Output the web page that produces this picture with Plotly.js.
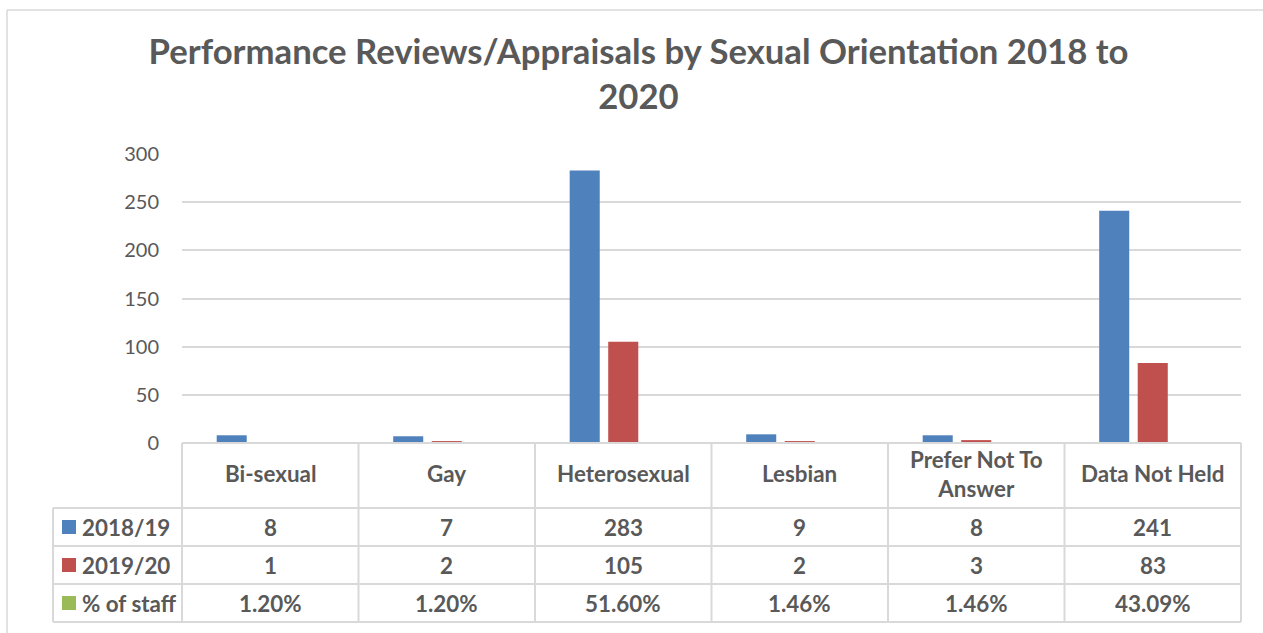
<!DOCTYPE html>
<html>
<head>
<meta charset="utf-8">
<script src="https://cdn.plot.ly/plotly-3.0.1.min.js"></script>
<style>html,body{margin:0;padding:0;background:#fff;}#chart{width:1263px;height:633px;}</style>
</head>
<body>
<div id="chart"></div>
<script>
// ---- data ----
var categories = ["Bi-sexual", "Gay", "Heterosexual", "Lesbian", "Prefer Not To Answer", "Data Not Held"];
var categoryLabels = ["Bi-sexual", "Gay", "Heterosexual", "Lesbian", "Prefer Not To<br>Answer", "Data Not Held"];
var seriesNames = ["2018/19", "2019/20", "% of staff"];
var reviews2018 = [8, 7, 283, 9, 8, 241];
var reviews2019 = [1, 2, 105, 2, 3, 83];
var pctStaff = [0.012, 0.012, 0.516, 0.0146, 0.0146, 0.4309];
var yTicks = [0, 50, 100, 150, 200, 250, 300];

// ---- styling ----
var colors = ["#4F81BD", "#C0504D", "#9BBB59"];
var textColor = "#595959";
var lineColor = "#D9D9D9";
var W = 1263, H = 633;
var plotL = 182, plotR = 1241, plotT = 154, plotB = 443;
var FONT = "Lato, 'Open Sans', sans-serif";
var TABLE_SIZE = 22.4;

function px2x(p) { return (p - plotL) / (plotR - plotL); }
function px2y(p) { return (plotB - p) / (plotB - plotT); }

var traces = [reviews2018, reviews2019, pctStaff].map(function (vals, i) {
  return {
    type: "bar",
    name: seriesNames[i],
    x: categories,
    y: vals,
    marker: { color: colors[i], line: { width: 0 } },
    showlegend: false,
    hoverinfo: "x+y+name"
  };
});

// table geometry (pixels)
var rowLines = [443, 508, 546, 584, 622];
var labelLeft = 53;
var shapes = [];
var annotations = [];

// outer chart border (left and top)
shapes.push({ type: "line", xref: "paper", yref: "paper", x0: px2x(7), x1: px2x(7), y0: px2y(10), y1: px2y(H + 5), line: { color: lineColor, width: 1.5 } });
shapes.push({ type: "line", xref: "paper", yref: "paper", x0: px2x(7), x1: px2x(W + 5), y0: px2y(10), y1: px2y(10), line: { color: lineColor, width: 1.5 } });

// horizontal table lines
rowLines.forEach(function (r, k) {
  shapes.push({ type: "line", xref: "paper", yref: "paper",
    x0: k === 0 ? 0 : px2x(labelLeft), x1: 1, y0: px2y(r), y1: px2y(r),
    line: { color: lineColor, width: 2 } });
});
// vertical table lines
for (var i = 0; i <= categories.length; i++) {
  var xp = i / categories.length;
  shapes.push({ type: "line", xref: "paper", yref: "paper", x0: xp, x1: xp, y0: px2y(rowLines[0]), y1: px2y(rowLines[4]), line: { color: lineColor, width: 2 } });
}
shapes.push({ type: "line", xref: "paper", yref: "paper", x0: px2x(labelLeft), x1: px2x(labelLeft), y0: px2y(rowLines[1]), y1: px2y(rowLines[4]), line: { color: lineColor, width: 2 } });

// header labels
categories.forEach(function (c, i) {
  annotations.push({ xref: "x", yref: "paper", x: c, y: px2y((rowLines[0] + rowLines[1]) / 2 - 2),
    text: categoryLabels[i], showarrow: false, xanchor: "center", yanchor: "middle",
    font: { family: FONT, size: TABLE_SIZE, color: textColor, weight: "bold" } });
});

// rows
var rowValues = [
  reviews2018.map(String),
  reviews2019.map(String),
  pctStaff.map(function (v) { return (v * 100).toFixed(2) + "%"; })
];
rowValues.forEach(function (vals, r) {
  var yc = px2y((rowLines[r + 1] + rowLines[r + 2]) / 2);
  // legend key
  shapes.push({ type: "rect", xref: "paper", yref: "paper", x0: px2x(62), x1: px2x(76), y0: yc - 7 / 289, y1: yc + 7 / 289,
    fillcolor: colors[r], line: { width: 0 } });
  annotations.push({ xref: "paper", yref: "paper", x: px2x(80), y: yc, text: seriesNames[r], showarrow: false,
    xanchor: "left", yanchor: "middle", font: { family: FONT, size: TABLE_SIZE, color: textColor, weight: "bold" } });
  vals.forEach(function (t, i) {
    annotations.push({ xref: "x", yref: "paper", x: categories[i], y: yc, text: t, showarrow: false,
      xanchor: "center", yanchor: "middle", font: { family: FONT, size: TABLE_SIZE, color: textColor, weight: "bold" } });
  });
});

var layout = {
  width: W, height: H,
  margin: { l: plotL, r: W - plotR, t: plotT, b: H - plotB, pad: 0 },
  paper_bgcolor: "#ffffff", plot_bgcolor: "#ffffff",
  title: {
    text: "Performance Reviews/Appraisals by Sexual Orientation 2018 to<br>2020",
    font: { family: FONT, size: 34.7, color: textColor, weight: "bold" },
    xref: "container", x: 638.5 / W, xanchor: "center",
    yref: "container", y: 1 - 64 / H, yanchor: "top"
  },
  barmode: "group",
  bargap: 0.345,
  bargroupgap: 0.22,
  xaxis: { type: "category", range: [-0.5, categories.length - 0.5], showticklabels: false, showgrid: false, zeroline: false, showline: false, ticks: "", fixedrange: true },
  yaxis: { range: [0, 300], tickvals: yTicks, ticktext: yTicks.map(String), showgrid: true, gridcolor: lineColor, gridwidth: 2,
    zeroline: true, zerolinecolor: lineColor, zerolinewidth: 2, showline: false, ticks: "", ticklabelstandoff: 22,
    tickfont: { family: FONT, size: 20, color: textColor }, fixedrange: true },
  shapes: shapes,
  annotations: annotations,
  showlegend: false
};

Plotly.newPlot("chart", traces, layout, { displayModeBar: false, staticPlot: true });
</script>
</body>
</html>
